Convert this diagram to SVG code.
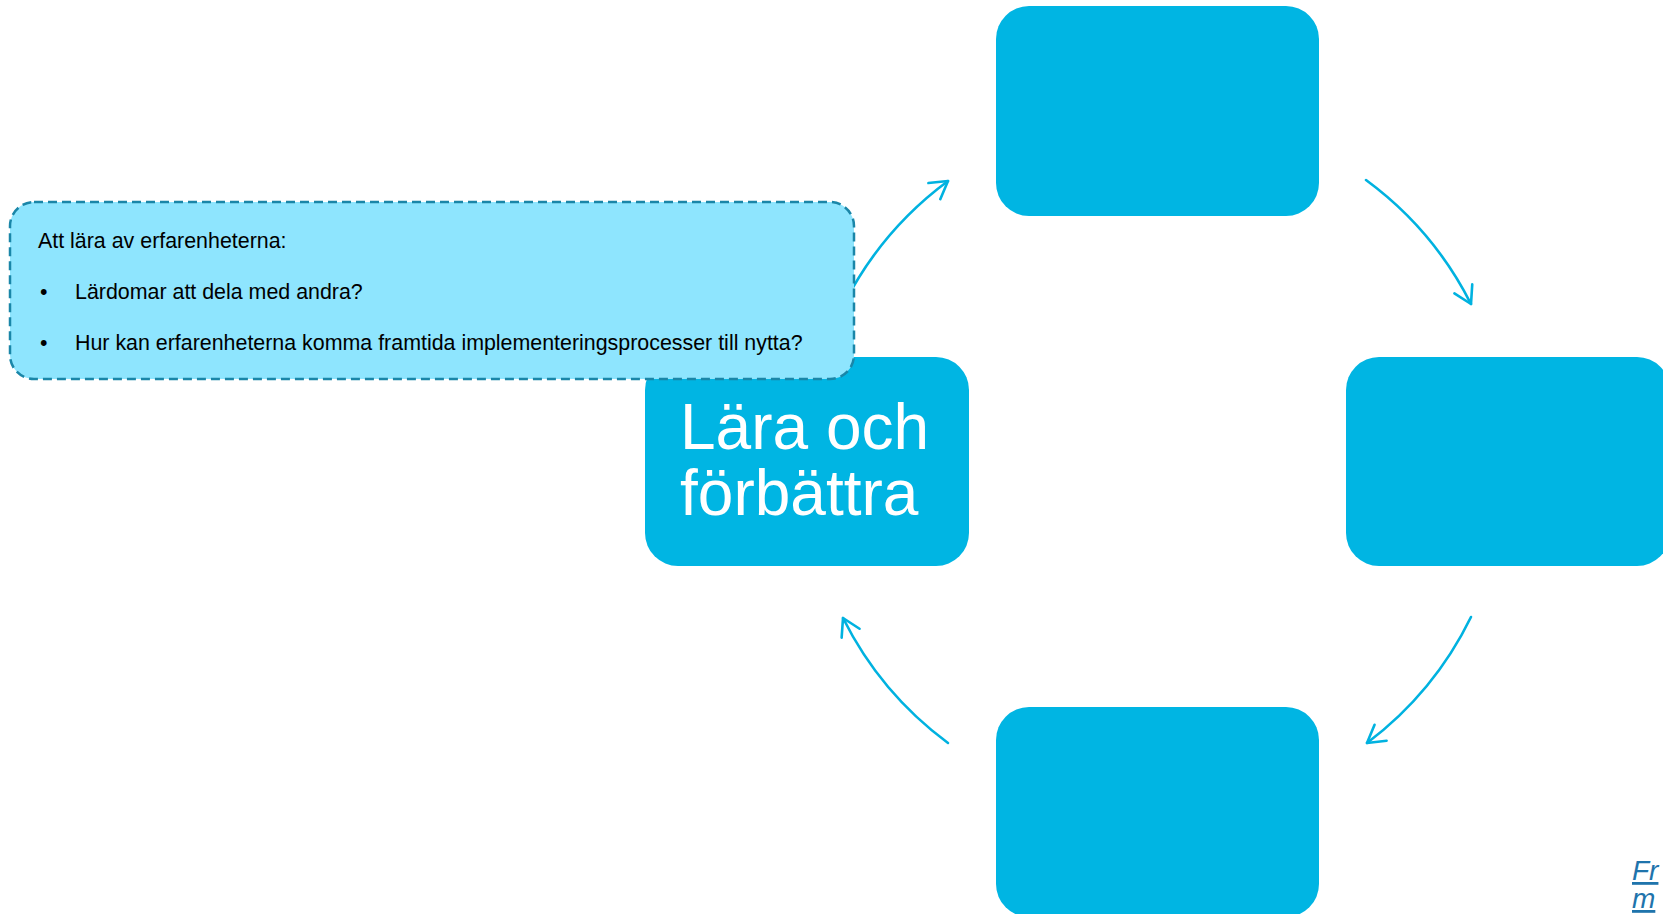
<svg xmlns="http://www.w3.org/2000/svg" width="1663" height="914" viewBox="0 0 1663 914">
  <style>
    .box { fill: #00B5E3; }
    .conn { fill: none; stroke: #00B2E0; stroke-width: 2.6; stroke-linecap: round; }
    .callout { fill: #8EE5FE; stroke: #1A86A8; stroke-width: 2.5; stroke-dasharray: 9 5; }
    .ct { font-family: "Liberation Sans", Arial, sans-serif; font-size: 21.4px; fill: #000; }
    .big { font-family: "Liberation Sans", Arial, sans-serif; font-size: 64px; fill: #fff; }
    .ref { font-family: "Liberation Sans", Arial, sans-serif; font-size: 28px; font-style: italic; fill: #1F74AC; text-decoration: underline; }
  </style>
  <defs>
    <marker id="arrow" markerUnits="userSpaceOnUse" viewBox="-25 -25 50 50" markerWidth="50" markerHeight="50" refX="0" refY="0" orient="auto" overflow="visible">
      <path d="M-17,-10 L0,0 L-17,10" fill="none" stroke="#00B2E0" stroke-width="2.6" stroke-linecap="round" stroke-linejoin="round"/>
    </marker>
  </defs>
  <rect width="1663" height="914" fill="#fff"/>

  <g id="node-top"><rect class="box" x="996" y="6" width="323" height="210" rx="33"/></g>
  <g id="node-right"><rect class="box" x="1346" y="357" width="324" height="209" rx="33"/></g>
  <g id="node-bottom"><rect class="box" x="996" y="707" width="323" height="210" rx="33"/></g>
  <g id="node-left">
    <rect class="box" x="645" y="357" width="324" height="209" rx="33"/>
    <text class="big" x="680" y="449">Lära och</text>
    <text class="big" x="680" y="515">förbättra</text>
  </g>

  <g id="connectors">
    <path class="conn" marker-end="url(#arrow)" d="M844,304 A350,350 0 0 1 948,181"/>
    <path class="conn" marker-end="url(#arrow)" d="M1366,180 A350,350 0 0 1 1471,304"/>
    <path class="conn" marker-end="url(#arrow)" d="M1471,617 A350,350 0 0 1 1367,743"/>
    <path class="conn" marker-end="url(#arrow)" d="M948,743 A350,350 0 0 1 843,618"/>
  </g>

  <g id="callout">
    <rect class="callout" x="10" y="202" width="844" height="177" rx="24"/>
    <text class="ct" x="38" y="248">Att lära av erfarenheterna:</text>
    <text class="ct" x="40" y="299">•</text>
    <text class="ct" x="75" y="299">Lärdomar att dela med andra?</text>
    <text class="ct" x="40" y="350">•</text>
    <text class="ct" x="75" y="350">Hur kan erfarenheterna komma framtida implementeringsprocesser till nytta?</text>
  </g>

  <g id="reference">
    <text class="ref" x="1632" y="880">Fr</text>
    <text class="ref" x="1632" y="908">m</text>
  </g>
</svg>
